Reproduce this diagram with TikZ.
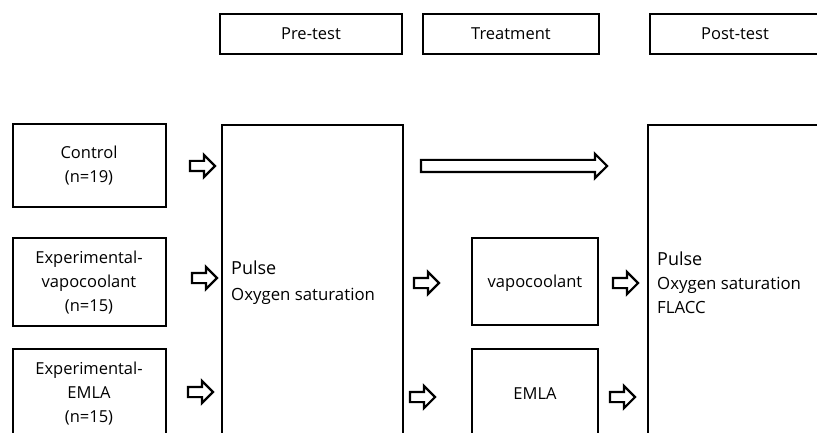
\documentclass[tikz,border=0pt]{standalone}
\usepackage{fontspec}
\setmainfont{Open Sans}
\usetikzlibrary{shapes.arrows}
\begin{document}
\begin{tikzpicture}[x=1pt,y=-1pt,
  box/.style={draw=black,line width=2.2pt,fill=white},
  lbl/.style={font=\fontsize{16.5}{24}\selectfont,align=center,inner sep=0pt},
  blk/.style={single arrow,draw=black,line width=2.2pt,fill=white,
    inner xsep=0pt,inner ysep=4pt,minimum height=25pt,
    single arrow head extend=6pt,single arrow tip angle=90,anchor=center},
  longblk/.style={blk,inner ysep=5pt,minimum height=186pt,single arrow head extend=6pt}]
\useasboundingbox (0,0) rectangle (817,433);
\clip (0,0) rectangle (817,433);
% header boxes
\draw[box] (220,14) rectangle (402,54);
\node[lbl] (pre) at (311,34) {Pre-test};
\draw[box] (423,14) rectangle (599,54);
\node[lbl] (treat) at (511,34) {Treatment};
\draw[box] (650,14) rectangle (830,54);
\node[lbl] (post) at (735,34) {Post-test};
% group boxes
\draw[box] (13,124) rectangle (166,207);
\node[lbl] (ctrl) at (89,166) {Control\\(n=19)};
\draw[box] (13,238) rectangle (166,326);
\node[lbl] (vgrp) at (89,283) {Experimental-\\vapocoolant\\(n=15)};
\draw[box] (13,349) rectangle (166,445);
\node[lbl] (egrp) at (89,394) {Experimental-\\EMLA\\(n=15)};
% pre-test box
\draw[box] (222,125) rectangle (403,445);
\node[lbl,align=left,anchor=west,font=\fontsize{16.8}{26}\selectfont] (pretext) at (231,283) {\fontsize{18}{26}\selectfont Pulse\\Oxygen saturation};
% treatment boxes
\draw[box] (472,238) rectangle (598,325);
\node[lbl] (vapo) at (535,283) {vapocoolant};
\draw[box] (472,349) rectangle (598,445);
\node[lbl] (emla) at (535,394) {EMLA};
% post-test box
\draw[box] (648,125) rectangle (830,445);
\node[lbl,align=left,anchor=west,font=\fontsize{16.8}{24}\selectfont] (posttext) at (657,283) {\fontsize{18}{24}\selectfont Pulse\\Oxygen saturation\\FLACC};
% arrows
\node[blk] (a1) at (200,166) {};
\node[blk] (a2) at (202,278) {};
\node[blk] (a3) at (198,392) {};
\node[blk] (a4) at (424,283) {};
\node[blk] (a5) at (623,283) {};
\node[blk] (a6) at (420,397) {};
\node[blk] (a7) at (620,397) {};
\node[longblk] (a8) at (511,166) {};
\end{tikzpicture}
\end{document}
